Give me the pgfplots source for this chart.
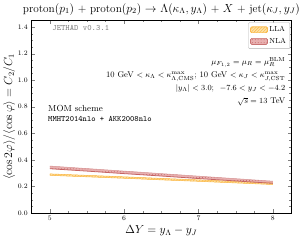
\documentclass[border=0pt]{standalone}
\usepackage{pgfplots}
\pgfplotsset{compat=1.18}
\usepgfplotslibrary{fillbetween}
\usetikzlibrary{patterns}
\definecolor{llaC}{HTML}{FBB640}
\definecolor{llaF}{HTML}{FDE2A8}
\definecolor{nlaC}{HTML}{C46464}
\definecolor{nlaF}{HTML}{E8B0B0}
\newcommand{\annfont}{\fontsize{8.5}{13.6}\selectfont\lineskiplimit=-20pt\relax}
\pgfplotstableread{
x     llo    lhi    nlo    nhi
5.0   0.284  0.295  0.334  0.354
5.5   0.273  0.284  0.316  0.335
6.0   0.262  0.273  0.297  0.316
6.5   0.250  0.261  0.279  0.297
7.0   0.239  0.250  0.260  0.278
7.5   0.227  0.238  0.242  0.259
8.0   0.215  0.226  0.224  0.240
}\datatab
\begin{document}
\begin{tikzpicture}
\begin{axis}[
  scale only axis,
  width=266pt, height=197pt,
  xmin=4.75, xmax=8.25, ymin=0, ymax=1.45,
  xtick={5,6,7,8},
  ytick={0,0.2,0.4,0.6,0.8,1.0,1.2,1.4},
  yticklabels={0.0,0.2,0.4,0.6,0.8,1.0,1.2,1.4},
  minor x tick num=3, minor y tick num=3,
  tick align=inside, ticks=both,
  xtick pos=both, ytick pos=both,
  major tick length=4pt, minor tick length=2pt,
  tick label style={font=\fontsize{7}{8}\selectfont},
  title={\fontsize{11.5}{13}\selectfont proton$(p_1)$ + proton$(p_2)$ $\to$ $\Lambda(\kappa_\Lambda, y_\Lambda)$ + $X$ + jet$(\kappa_J, y_J)$},
  title style={yshift=-4pt},
  xlabel={\fontsize{12}{14}\selectfont $\Delta Y = y_\Lambda - y_J$},
  ylabel={\fontsize{12}{14}\selectfont $\langle\cos 2\varphi\rangle/\langle\cos\varphi\rangle = C_2/C_1$},
  xlabel style={yshift=2pt},
  ylabel style={yshift=-4pt},
  legend style={at={(0.995,0.99)}, anchor=north east, font=\fontsize{7.5}{8}\selectfont, draw=black!30, rounded corners=1pt, row sep=1pt, inner sep=2pt},
  legend cell align=left,
  legend image code/.code={\draw[#1] (0pt,-3pt) rectangle (17pt,3pt);},
]
\addplot[name path=lhi, draw=llaC, line width=0.5pt, forget plot] table[x=x, y=lhi] {\datatab};
\addplot[name path=llo, draw=llaC, line width=0.5pt, forget plot] table[x=x, y=llo] {\datatab};
\addplot[fill=llaF, draw=none, postaction={pattern=north east lines, pattern color=llaC}, forget plot] fill between[of=lhi and llo];
\addplot[name path=nhi, draw=nlaC!70, line width=0.5pt, forget plot] table[x=x, y=nhi] {\datatab};
\addplot[name path=nlo, draw=nlaC, line width=0.8pt, forget plot] table[x=x, y=nlo] {\datatab};
\addplot[fill=nlaF, draw=none, postaction={pattern=dots, pattern color=nlaC}, forget plot] fill between[of=nhi and nlo];
\addlegendimage{draw=llaC, fill=llaF, postaction={pattern=north east lines, pattern color=llaC}}
\addlegendentry{LLA}
\addlegendimage{draw=nlaC, fill=nlaF, postaction={pattern=dots, pattern color=nlaC}}
\addlegendentry{NLA}
\node[anchor=west, text=black!50, font=\ttfamily\fontsize{8.4}{9}\selectfont] at (rel axis cs:0.068,0.96) {JETHAD v0.3.1};
\node[anchor=east, inner sep=1pt, align=right, font=\annfont] at (rel axis cs:0.981,0.683) {$\mu_{F_{1,2}} = \mu_R = \mu_R^{\rm BLM}$\\ 10 GeV $< \kappa_\Lambda < \kappa_{\Lambda,\rm CMS}^{\rm max}$; 10 GeV $< \kappa_J < \kappa_{J,\rm CST}^{\rm max}$\\ $|y_\Lambda| < 3.0$; \ $-7.6 < y_J < -4.2$\\ $\sqrt{s} = 13$ TeV};
\node[anchor=west, font=\fontsize{9}{10}\selectfont] at (rel axis cs:0.052,0.543) {MOM scheme};
\node[anchor=west, font=\ttfamily\fontsize{8.3}{9}\selectfont] at (rel axis cs:0.052,0.487) {MMHT2014nlo + AKK2008nlo};
\end{axis}
\end{tikzpicture}
\end{document}
